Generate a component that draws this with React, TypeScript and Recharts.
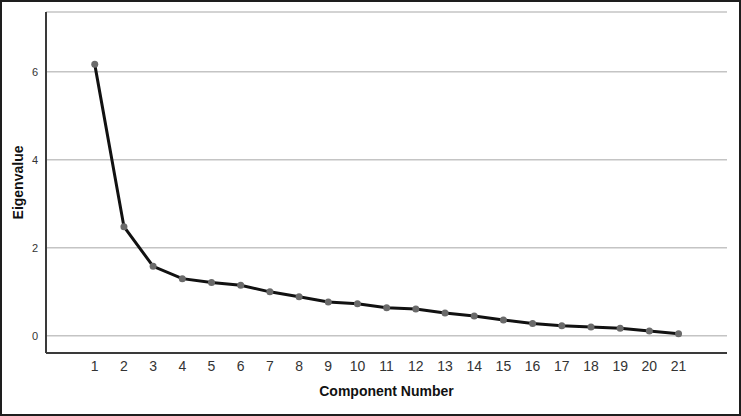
import React from 'react';
import { LineChart, Line, XAxis, YAxis, CartesianGrid } from 'recharts';

const components = [1, 2, 3, 4, 5, 6, 7, 8, 9, 10, 11, 12, 13, 14, 15, 16, 17, 18, 19, 20, 21];
const eigenvalues = [6.17, 2.48, 1.58, 1.30, 1.21, 1.15, 1.00, 0.89, 0.77, 0.73, 0.64, 0.61, 0.52, 0.45, 0.36, 0.28, 0.23, 0.20, 0.17, 0.11, 0.05];
const yTicks = [0, 2, 4, 6];

const data = components.map((c, i) => ({ component: c, eigenvalue: eigenvalues[i] }));

const font = '"Liberation Sans", Arial, sans-serif';

export default function App() {
  return (
    <div
      style={{
        position: 'absolute',
        left: 0,
        top: 0,
        width: 741,
        height: 416,
        border: '2px solid #1e1e1e',
        boxSizing: 'border-box',
        background: '#fff',
        fontFamily: font,
      }}
    >
      <LineChart
        width={737}
        height={412}
        data={data}
        margin={{ top: 10, right: 12, bottom: 31, left: 0 }}
      >
        <CartesianGrid vertical={false} stroke="#c4c4c4" strokeWidth={1.5} />
        <XAxis
          dataKey="component"
          type="number"
          domain={[-0.67, 22.66]}
          ticks={components}
          interval={0}
          height={30}
          tickLine={false}
          axisLine={{ stroke: '#3a3a3a', strokeWidth: 2 }}
          tick={{ fontSize: 14, fill: '#333', fontFamily: font }}
          label={{
            content: (props: any) => {
              const vb = props.viewBox;
              return (
                <text
                  x={vb.x + vb.width / 2}
                  y={394}
                  textAnchor="middle"
                  fontSize={14}
                  fontWeight="bold"
                  fill="#111"
                  fontFamily={font}
                >
                  Component Number
                </text>
              );
            },
          }}
        />
        <YAxis
          type="number"
          domain={[-0.39, 7.36]}
          ticks={yTicks}
          width={44}
          tickLine={false}
          axisLine={{ stroke: '#3a3a3a', strokeWidth: 2 }}
          tick={{ fontSize: 11, fill: '#333', fontFamily: font }}
          label={{
            content: (props: any) => {
              const vb = props.viewBox;
              const cx = 16;
              const cy = vb.y + vb.height / 2;
              return (
                <text
                  x={cx}
                  y={cy}
                  transform={`rotate(-90, ${cx}, ${cy})`}
                  textAnchor="middle"
                  dominantBaseline="central"
                  fontSize={14}
                  fontWeight="bold"
                  fill="#111"
                  fontFamily={font}
                >
                  Eigenvalue
                </text>
              );
            },
          }}
        />
        <Line
          type="linear"
          dataKey="eigenvalue"
          stroke="#111"
          strokeWidth={3}
          dot={{ r: 3.5, fill: '#6a6a6a', stroke: 'none' }}
          activeDot={false}
          isAnimationActive={false}
        />
      </LineChart>
    </div>
  );
}
